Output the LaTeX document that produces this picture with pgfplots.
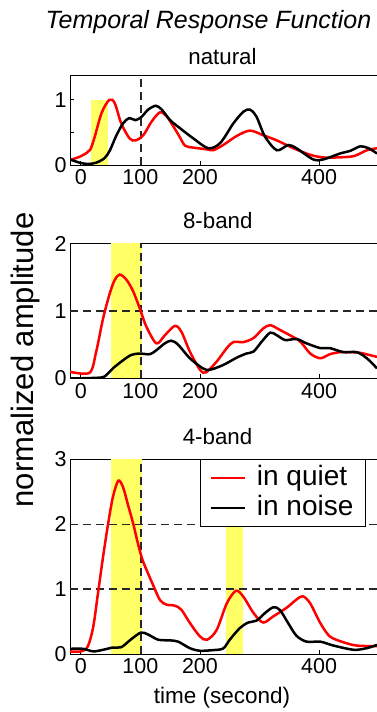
\documentclass[border=0pt]{standalone}
\usepackage{fontspec}
\setmainfont{Liberation Sans}
\usepackage{pgfplots}
\pgfplotsset{compat=1.18}
\definecolor{hl}{RGB}{255,255,102}
\pgfplotsset{
  trf/.style={
    scale only axis, width=307pt, anchor=south west,
    xmin=-18, xmax=497, ymin=0,
    axis x line*=box, axis y line*=left,
    axis line style={-, line width=0.8pt, black},
    xtick={0,100,200,400}, xtick pos=lower, ytick pos=left,
    tick align=inside, major tick length=4pt,
    tick style={line width=0.8pt, black},
    ticklabel style={font=\fontsize{21.5}{24}\selectfont},
    /pgf/number format/assume math mode=true,
    xticklabel style={yshift=-1pt},
  },
  dash/.style={black!85, line width=1.3pt, dash pattern=on 8pt off 5pt, forget plot},
  quiet/.style={red, line width=2.5pt, smooth},
  noise/.style={black, line width=2.5pt, smooth},
}
\begin{document}
\begin{tikzpicture}
\useasboundingbox (0pt,0pt) rectangle (377pt,712pt);

% ---------------- natural ----------------
\begin{axis}[trf, at={(70pt,546.7pt)}, height=90.3pt, ymax=1.38,
  ytick={0,0.5,1}, yticklabels={0,,1}]
\addplot[fill=hl, draw=none, forget plot] coordinates {(17,0) (45,0) (45,1) (17,1)} -- cycle;
\addplot[dash] coordinates {(101,0) (101,1.38)};
\addplot[quiet] coordinates {
(-18,0.08) (-2,0.13) (10,0.19) (16,0.24) (23,0.42) (35,0.80) (48,1.00) (57,0.95)
(68,0.64) (82,0.41) (92,0.38) (105,0.46) (119,0.67) (133,0.81) (144,0.75) (155,0.60)
(165,0.45) (175,0.30) (189,0.27) (211,0.245) (222,0.23) (239,0.31) (262,0.45) (284,0.53)
(306,0.46) (329,0.38) (357,0.26) (385,0.16) (407,0.12) (430,0.12) (458,0.14) (480,0.23) (497,0.26)};
\addplot[noise] coordinates {
(-18,0.09) (-2,0.04) (12,0.02) (26,0.04) (40,0.11) (49,0.23) (60,0.46) (71,0.64)
(81,0.72) (92,0.69) (102,0.74) (113,0.85) (126,0.91) (136,0.85) (150,0.69) (166,0.57)
(189,0.41) (214,0.26) (234,0.34) (256,0.64) (273,0.82) (284,0.85) (295,0.74) (309,0.44)
(329,0.23) (348,0.31) (362,0.26) (390,0.09) (407,0.09) (435,0.18) (452,0.22) (469,0.29)
(483,0.26) (497,0.18)};
\end{axis}

% ---------------- 8-band ----------------
\begin{axis}[trf, at={(70pt,333.5pt)}, height=135pt, ymax=2,
  ytick={0,1,2}]
\addplot[fill=hl, draw=none, forget plot] coordinates {(50,0) (103,0) (103,2) (50,2)} -- cycle;
\addplot[dash] coordinates {(-18,1) (497,1)};
\addplot[dash] coordinates {(101,0) (101,2)};
\addplot[quiet] coordinates {
(-18,0.10) (15,0.086) (26,0.40) (37.5,0.89) (48.7,1.26) (57,1.46) (65.5,1.54) (77,1.46)
(88,1.29) (99,1.04) (110,0.77) (127,0.52) (141,0.64) (158,0.78) (169,0.69) (183,0.40)
(200,0.13) (210,0.09) (228,0.25) (245,0.45) (256,0.54) (273,0.54) (290,0.60) (306,0.74)
(318,0.79) (334,0.72) (351,0.64) (368,0.55) (385,0.37) (402,0.30) (418,0.36) (435,0.39)
(452,0.39) (469,0.38) (497,0.32)};
\addplot[noise] coordinates {
(-18,0.0) (26,0.01) (40,0.03) (54,0.15) (71,0.27) (85,0.35) (99,0.37) (116,0.36)
(127,0.42) (141,0.52) (152,0.56) (163.5,0.50) (183,0.30) (205,0.15) (217,0.13) (239,0.20)
(262,0.31) (278,0.37) (290,0.40) (304,0.55) (318,0.68) (329,0.64) (343,0.57) (362,0.585)
(379,0.52) (402,0.45) (418,0.45) (441,0.39) (463,0.39) (480,0.30) (497,0.15)};
\end{axis}

% ---------------- 4-band ----------------
\begin{axis}[trf, at={(70pt,58pt)}, height=194.7pt, ymax=3,
  ytick={0,1,2,3},
  legend cell align=left,
  legend image code/.code={\draw[#1, line width=2.5pt] (0pt,0pt) -- (34pt,0pt);},
  legend style={at={(0.4235,1)}, anchor=north west, draw=black, line width=0.8pt, fill=white,
    font=\fontsize{28}{30}\selectfont, inner xsep=9pt, inner ysep=3.5pt,
    column sep=8pt, row sep=0pt,
    nodes={inner sep=3pt, text height=19pt, text depth=5pt}}]
\addplot[fill=hl, draw=none, forget plot] coordinates {(50,0) (103,0) (103,3) (50,3)} -- cycle;
\addplot[fill=hl, draw=none, forget plot] coordinates {(244,0) (272,0) (272,3) (244,3)} -- cycle;
\addplot[dash] coordinates {(-18,1) (497,1)};
\addplot[dash] coordinates {(-18,2) (497,2)};
\addplot[dash] coordinates {(101,0) (101,3)};
\addplot[quiet] coordinates {
(-18,0.04) (1,0.04) (12,0.12) (21,0.42) (29,0.94) (37.5,1.50) (46,2.01) (54,2.42)
(63,2.67) (71,2.57) (79.5,2.29) (88,2.01) (96,1.70) (103.6,1.45) (113,1.24) (121.5,1.06)
(133,0.83) (144,0.76) (158,0.745) (169,0.68) (183,0.48) (200,0.27) (212,0.22) (228,0.37)
(245,0.78) (260.5,0.975) (273,0.88) (290,0.63) (306,0.485) (323,0.58) (345,0.71) (362,0.84)
(372.6,0.89) (385,0.78) (402,0.475) (418,0.27) (441,0.18) (463,0.13) (497,0.12)};
\addlegendentry{in quiet}
\addplot[noise] coordinates {
(-18,0.08) (4,0.08) (21,0.04) (37.5,0.065) (54,0.10) (68,0.105) (85,0.23) (101,0.33)
(113,0.30) (130,0.22) (150,0.21) (163.5,0.19) (183,0.09) (200,0.05) (222,0.06) (239,0.085)
(250,0.22) (267,0.40) (281,0.485) (295,0.515) (309,0.63) (323,0.72) (334,0.68) (348,0.475)
(362,0.28) (379,0.19) (402,0.19) (424,0.13) (458,0.065) (480,0.09) (497,0.14)};
\addlegendentry{in noise}
\end{axis}

% ---------------- texts ----------------
\node[anchor=base, font=\fontsize{25}{28}\selectfont\itshape] at (208.5pt,683.7pt) {Temporal Response Function};
\node[anchor=base, font=\fontsize{22.3}{25}\selectfont] at (222.5pt,647pt) {natural};
\node[anchor=base, font=\fontsize{22.3}{25}\selectfont] at (217.8pt,483pt) {8-band};
\node[anchor=base, font=\fontsize{22.3}{25}\selectfont] at (217.5pt,267pt) {4-band};
\node[anchor=base, font=\fontsize{22.5}{25}\selectfont] at (222pt,9pt) {time (second)};
\node[anchor=base, rotate=90, font=\fontsize{31}{33}\selectfont] at (33pt,352pt) {normalized amplitude};
\end{tikzpicture}
\end{document}
